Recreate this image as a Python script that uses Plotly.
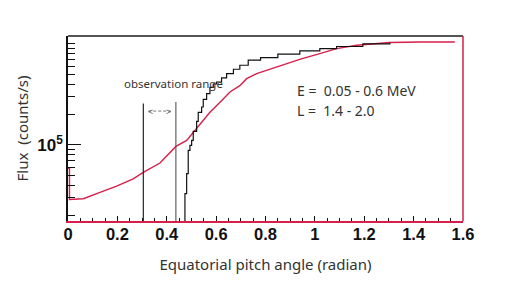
import plotly.graph_objects as go

# ---------------- data ----------------
# black histogram (step-like)
black_x = [0.4737, 0.4737, 0.4806, 0.4870, 0.4939, 0.5008, 0.5073, 0.5211, 0.5275,
           0.5413, 0.5478, 0.5615, 0.5749, 0.5883, 0.6020, 0.6220, 0.6425, 0.6700,
           0.6960, 0.7300, 0.7800, 0.8500, 0.9390, 1.0200, 1.0879, 1.1943, 1.3036]
black_y = [1.0e4, 3.29e4, 5.19e4, 8.83e4, 9.89e4, 1.109e5, 1.36e5, 1.71e5, 2.10e5,
           2.37e5, 2.82e5, 3.21e5, 3.70e5, 4.00e5, 4.19e5, 4.60e5, 5.07e5, 5.60e5,
           6.13e5, 6.90e5, 7.30e5, 7.90e5, 8.50e5, 8.96e5, 9.40e5, 1.0e6, 1.023e6]

# red histogram
red_x = [0.0, 0.006, 0.006, 0.062, 0.1296, 0.197, 0.264, 0.305, 0.3725, 0.4372,
         0.4806, 0.521, 0.575, 0.6287, 0.656, 0.696, 0.7235, 0.764, 0.8178, 0.858,
         0.945, 1.02, 1.0879, 1.1688, 1.2632, 1.3036, 1.4251, 1.5668]
red_y = [5.85e4, 5.85e4, 2.88e4, 2.93e4, 3.39e4, 3.91e4, 4.62e4, 5.35e4, 6.61e4, 9.66e4,
         1.109e5, 1.445e5, 2.10e5, 2.85e5, 3.34e5, 3.85e5, 4.52e5, 5.07e5, 5.60e5, 6.13e5,
         7.10e5, 8.00e5, 8.96e5, 9.66e5, 1.004e6, 1.028e6, 1.042e6, 1.042e6]

# observation range markers
obs_x = [0.305, 0.437]
obs_top = [2.56e5, 2.65e5]
obs_colors = ["#111111", "#555555"]
arrow_y = 2.16e5

x_ticks = [0, 0.2, 0.4, 0.6, 0.8, 1.0, 1.2, 1.4, 1.6]
y_major = [1e5]
y_major_text = ["<b>10<sup>5</sup></b>"]
y_minor = [2e4, 3e4, 4e4, 5e4, 6e4, 7e4, 8e4, 9e4,
           2e5, 3e5, 4e5, 5e5, 6e5, 7e5, 8e5, 9e5, 1e6]

x_range = [0, 1.6]
y_range_log = [4.247, 6.077]
y_floor = 10 ** y_range_log[0]

RED = "#d81e4a"

fig = go.Figure()

fig.add_trace(go.Scatter(x=red_x, y=red_y, mode="lines",
                         line=dict(color=RED, width=1.4),
                         showlegend=False, hoverinfo="skip"))
fig.add_trace(go.Scatter(x=black_x, y=black_y, mode="lines",
                         line=dict(color="#111111", width=1.2, shape="hv"),
                         showlegend=False, hoverinfo="skip"))

for xv, top, c in zip(obs_x, obs_top, obs_colors):
    fig.add_trace(go.Scatter(x=[xv, xv], y=[y_floor, top], mode="lines",
                             line=dict(color=c, width=1.1),
                             showlegend=False, hoverinfo="skip"))

# dashed double arrow between the observation lines
ax0 = obs_x[0] + 0.012
ax1 = obs_x[1] - 0.012
fig.add_trace(go.Scatter(x=[ax0 + 0.008, ax1 - 0.008], y=[arrow_y, arrow_y], mode="lines",
                         line=dict(color="#666666", width=0.9, dash="3px,2px"),
                         showlegend=False, hoverinfo="skip"))
fig.add_annotation(x=ax0, y=5.335, text="&lt;", showarrow=False, xanchor="left",
                   font=dict(family="Noto Sans", size=9, color="#555555"))
fig.add_annotation(x=ax1, y=5.335, text="&gt;", showarrow=False, xanchor="right",
                   font=dict(family="Noto Sans", size=9, color="#555555"))

# text annotations
fig.add_annotation(x=0.22, y=5.61, text="observation range", showarrow=False,
                   xanchor="left", yanchor="middle",
                   font=dict(family="Noto Sans", size=11.5, color="#333333"))
fig.add_annotation(x=0.92, y=5.535, text="E =  0.05 - 0.6 MeV", showarrow=False,
                   xanchor="left", yanchor="middle",
                   font=dict(family="Noto Sans", size=14, color="#333333"))
fig.add_annotation(x=0.92, y=5.34, text="L =  1.4 - 2.0", showarrow=False,
                   xanchor="left", yanchor="middle",
                   font=dict(family="Noto Sans", size=14, color="#333333"))

# frame: top grey, right red
fig.add_shape(type="line", xref="paper", yref="paper", x0=0, x1=1, y0=1, y1=1,
              line=dict(color="#555555", width=2))
fig.add_shape(type="line", xref="paper", yref="paper", x0=1, x1=1, y0=0, y1=1,
              line=dict(color=RED, width=1.5))

fig.update_xaxes(range=x_range, tickmode="array", tickvals=x_ticks,
                 ticks="inside", ticklen=5, tickcolor="#111111", tickwidth=1,
                 minor=dict(ticks="inside", dtick=0.05, tick0=0, ticklen=3,
                            tickcolor="#111111", showgrid=False),
                 showgrid=False, zeroline=False,
                 showline=True, linecolor=RED, linewidth=1.5,
                 ticklabelstandoff=-3,
                 tickfont=dict(family="Liberation Sans", size=16.5, color="#111111",
                               weight="bold"),
                 title=dict(text="Equatorial pitch angle (radian)", standoff=18,
                            font=dict(family="Noto Sans", size=15, color="#333333")))

fig.update_yaxes(type="log", range=y_range_log, tickmode="array",
                 tickvals=y_major, ticktext=y_major_text,
                 ticks="inside", ticklen=13, tickcolor="#111111", tickwidth=1,
                 minor=dict(ticks="inside", tickmode="array", tickvals=y_minor,
                            ticklen=7, tickcolor="#111111", showgrid=False),
                 showgrid=False, zeroline=False,
                 showline=True, linecolor="#111111", linewidth=1.5,
                 tickfont=dict(family="Liberation Sans", size=17, color="#111111"),
                 title=dict(text="Flux  (counts/s)", standoff=5,
                            font=dict(family="Noto Sans", size=15, color="#333333")))

# the page adds an 8px body margin, so the figure is sized to fit the window
fig.update_layout(width=497, height=288,
                  margin=dict(l=60, r=42, t=28, b=75, autoexpand=False),
                  paper_bgcolor="white", plot_bgcolor="white")

fig.write_html("out.html")
